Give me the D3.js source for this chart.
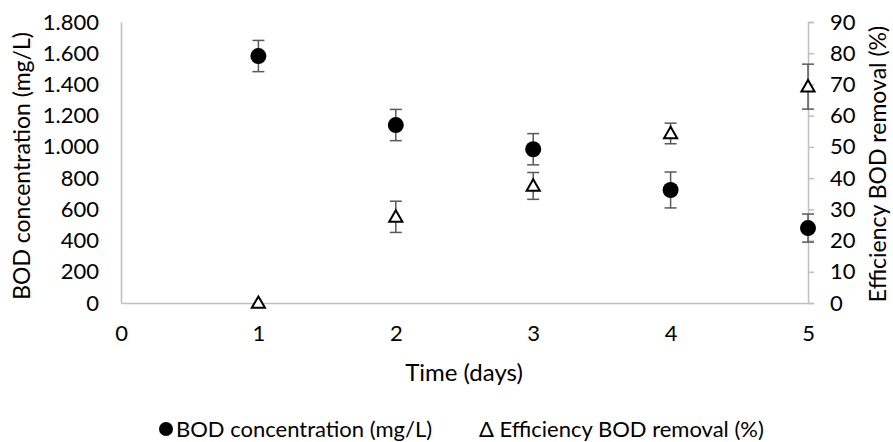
<!DOCTYPE html>
<html>
<head>
<meta charset="utf-8">
<script src="https://cdn.jsdelivr.net/npm/d3@7.9.0/dist/d3.min.js"></script>
<style>
  body { margin: 0; background: #fff; }
  svg { display: block; font-family: Lato, "Open Sans", sans-serif; }
</style>
</head>
<body>
<svg id="chart" width="893" height="442"></svg>
<script>
// data
const days = [1, 2, 3, 4, 5];
const bodConc = [1582, 1140, 985, 724, 480];
const bodErr = [100, 100, 100, 115, 90];
const efficiency = [0, 27.6, 37.5, 54.3, 69.3];
const effErr = [0, 5, 4.3, 3.3, 7.2];
const xTicks = [0, 1, 2, 3, 4, 5];
const leftTicks = [0, 200, 400, 600, 800, 1000, 1200, 1400, 1600, 1800];
const rightTicks = [0, 10, 20, 30, 40, 50, 60, 70, 80, 90];

const svg = d3.select('#chart');
const axisColor = '#bfbfbf';
const errColor = '#595959';
const fs = 22;

const x = d3.scaleLinear().domain([0, 5]).range([121, 808]);
const yL = d3.scaleLinear().domain([0, 1800]).range([303, 22]);
const yR = d3.scaleLinear().domain([0, 90]).range([303, 22]);

// format 1000 -> "1.000"
const fmt = (d) => d3.format(',')(d).replace(/,/g, '.');

const leftAxis = svg.append('g')
  .attr('transform', `translate(${x(0)},0)`)
  .call(d3.axisLeft(yL).tickValues(leftTicks).tickFormat(fmt).tickSize(0).tickPadding(22));
leftAxis.select('.domain').attr('stroke', axisColor).attr('stroke-width', 1.5);

const rightAxis = svg.append('g')
  .attr('transform', `translate(${x(5)},0)`)
  .call(d3.axisRight(yR).tickValues(rightTicks).tickSize(6).tickSizeOuter(6).tickPadding(16));
rightAxis.select('.domain').attr('stroke', axisColor).attr('stroke-width', 1.5);
rightAxis.selectAll('.tick line').attr('stroke', axisColor).attr('stroke-width', 1.5);

const bottomAxis = svg.append('g')
  .attr('transform', `translate(0,${yL(0)})`)
  .call(d3.axisBottom(x).tickValues(xTicks).tickFormat(d3.format('d')).tickSize(0).tickPadding(22).tickSizeOuter(0));
bottomAxis.select('.domain').attr('stroke', axisColor).attr('stroke-width', 1.5);

svg.selectAll('.tick text')
  .attr('font-size', fs)
  .attr('font-family', 'Lato, sans-serif')
  .attr('fill', '#000');

// error bars with caps
function errorBars(vals, errs, scale) {
  const g = svg.append('g').attr('stroke', errColor).attr('stroke-width', 1.5);
  days.forEach((d, i) => {
    if (!errs[i]) return;
    const cx = x(d);
    const top = scale(vals[i] + errs[i]);
    const bot = scale(vals[i] - errs[i]);
    g.append('line').attr('x1', cx).attr('x2', cx).attr('y1', top).attr('y2', bot);
    g.append('line').attr('x1', cx - 6).attr('x2', cx + 6).attr('y1', top).attr('y2', top);
    g.append('line').attr('x1', cx - 6).attr('x2', cx + 6).attr('y1', bot).attr('y2', bot);
  });
}
errorBars(bodConc, bodErr, yL);
errorBars(efficiency, effErr, yR);

// BOD concentration: filled circles
svg.append('g')
  .selectAll('circle')
  .data(days)
  .join('circle')
  .attr('cx', (d) => x(d))
  .attr('cy', (d, i) => yL(bodConc[i]))
  .attr('r', 8)
  .attr('fill', '#000');

// efficiency: open triangles
const tri = d3.symbol().type(d3.symbolTriangle).size(75);
svg.append('g')
  .selectAll('path')
  .data(days)
  .join('path')
  .attr('d', tri)
  .attr('transform', (d, i) => `translate(${x(d)},${yR(efficiency[i]) + 1})`)
  .attr('fill', '#fff')
  .attr('stroke', '#000')
  .attr('stroke-width', 2);

// axis titles
svg.append('text')
  .attr('transform', 'translate(30,166) rotate(-90)')
  .attr('text-anchor', 'middle')
  .attr('font-size', 23)
  .text('BOD concentration (mg/L)');

svg.append('text')
  .attr('transform', 'translate(886,164) rotate(-90)')
  .attr('text-anchor', 'middle')
  .attr('font-size', 23)
  .text('Efficiency BOD removal (%)');

svg.append('text')
  .attr('x', 464)
  .attr('y', 381)
  .attr('text-anchor', 'middle')
  .attr('font-size', 24)
  .text('Time (days)');

// legend
const legend = svg.append('g').attr('font-size', fs);
legend.append('circle').attr('cx', 166).attr('cy', 429).attr('r', 7).attr('fill', '#000');
legend.append('text').attr('x', 176).attr('y', 437).text('BOD concentration (mg/L)');
legend.append('text').attr('x', 479).attr('y', 437).text('\u0394 Efficiency BOD removal (%)');
</script>
</body>
</html>
